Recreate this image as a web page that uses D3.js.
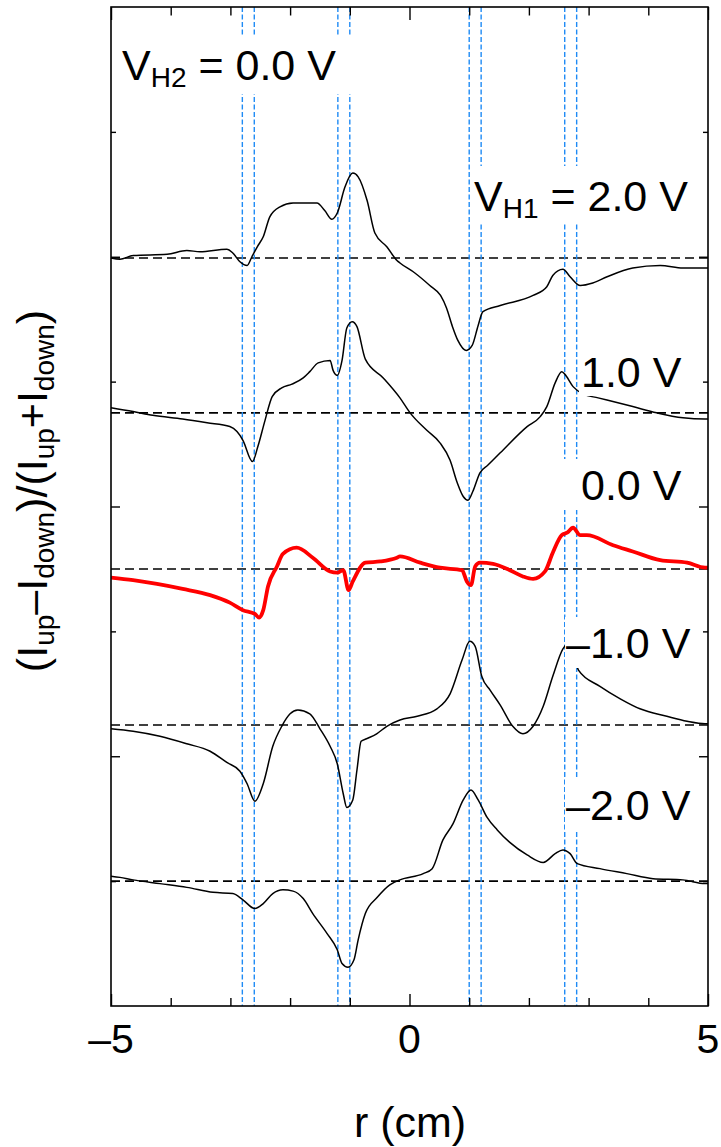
<!DOCTYPE html>
<html>
<head>
<meta charset="utf-8">
<script src="https://cdn.jsdelivr.net/npm/d3@7"></script>
<style>
  body { margin: 0; background: #fff; }
  svg { display: block; }
  text { font-family: "Liberation Sans", Arial, Helvetica, sans-serif; white-space: pre; }
</style>
</head>
<body>
<div id="chart"></div>
<script>
// ---- data (r in cm, asymmetry relative to each trace's own zero line) ----
const curveP2 = [[-5.0,0.000],[-4.85,-0.001],[-4.63,0.002],[-4.06,0.003],[-3.73,0.006],[-3.51,0.005],[-3.06,0.007],[-2.96,0.004],[-2.84,-0.003],[-2.72,-0.006],[-2.64,0.001],[-2.55,0.009],[-2.45,0.017],[-2.34,0.033],[-2.17,0.041],[-1.95,0.044],[-1.55,0.044],[-1.42,0.038],[-1.30,0.031],[-1.21,0.036],[-1.08,0.057],[-0.95,0.068],[-0.86,0.065],[-0.71,0.046],[-0.58,0.020],[-0.38,0.009],[-0.21,-0.002],[-0.16,-0.004],[0.09,-0.012],[0.34,-0.022],[0.52,-0.030],[0.62,-0.040],[0.72,-0.055],[0.81,-0.066],[0.95,-0.074],[1.05,-0.070],[1.15,-0.054],[1.23,-0.043],[1.52,-0.038],[2.07,-0.030],[2.30,-0.023],[2.40,-0.014],[2.57,-0.009],[2.69,-0.015],[2.86,-0.022],[3.07,-0.020],[3.31,-0.015],[3.74,-0.008],[4.20,-0.006],[4.58,-0.008],[4.95,-0.008],[5.0,-0.008]];

const curveP1 = [[-5.0,0.004],[-4.63,0.001],[-4.30,-0.002],[-3.80,-0.005],[-3.39,-0.008],[-3.01,-0.011],[-2.89,-0.015],[-2.79,-0.022],[-2.63,-0.039],[-2.54,-0.027],[-2.42,-0.006],[-2.30,0.013],[-2.14,0.020],[-1.97,0.023],[-1.78,0.028],[-1.67,0.033],[-1.53,0.040],[-1.33,0.042],[-1.28,0.034],[-1.21,0.030],[-1.13,0.042],[-1.05,0.068],[-0.96,0.073],[-0.88,0.069],[-0.74,0.043],[-0.44,0.028],[-0.16,0.012],[0.01,0.000],[0.29,-0.014],[0.51,-0.024],[0.68,-0.038],[0.80,-0.056],[0.90,-0.067],[0.98,-0.070],[1.06,-0.063],[1.18,-0.048],[1.31,-0.042],[1.52,-0.032],[1.97,-0.011],[2.19,-0.003],[2.30,0.005],[2.44,0.024],[2.55,0.033],[2.60,0.031],[2.74,0.021],[2.91,0.015],[3.16,0.012],[3.74,0.005],[4.14,0.000],[4.58,-0.004],[4.95,-0.005],[5.0,-0.005]];

const curve0 = [[-5.0,-0.007],[-4.63,-0.009],[-4.23,-0.012],[-3.80,-0.016],[-3.34,-0.021],[-3.01,-0.027],[-2.79,-0.033],[-2.59,-0.036],[-2.52,-0.039],[-2.45,-0.033],[-2.37,-0.014],[-2.22,0.002],[-2.12,0.012],[-1.89,0.017],[-1.62,0.009],[-1.33,-0.002],[-1.21,-0.003],[-1.11,-0.001],[-1.02,-0.017],[-0.95,-0.010],[-0.74,0.005],[-0.49,0.006],[-0.21,0.009],[-0.16,0.010],[0.18,0.005],[0.51,0.001],[0.88,-0.001],[0.96,-0.010],[1.03,-0.013],[1.10,0.002],[1.18,0.005],[1.40,0.004],[1.68,-0.001],[1.90,-0.006],[2.07,-0.008],[2.27,-0.002],[2.40,0.013],[2.55,0.027],[2.64,0.029],[2.74,0.033],[2.86,0.027],[2.97,0.027],[3.41,0.019],[3.74,0.014],[4.20,0.007],[4.65,0.005],[4.95,0.001],[5.0,0.001]];

const curveM1 = [[-5.0,-0.003],[-4.63,-0.005],[-4.18,-0.009],[-3.73,-0.015],[-3.34,-0.021],[-3.06,-0.030],[-2.84,-0.037],[-2.72,-0.047],[-2.59,-0.061],[-2.45,-0.047],[-2.29,-0.017],[-2.14,-0.001],[-2.00,0.009],[-1.87,0.012],[-1.67,0.009],[-1.50,-0.003],[-1.33,-0.017],[-1.21,-0.031],[-1.11,-0.055],[-1.05,-0.066],[-0.95,-0.060],[-0.88,-0.036],[-0.81,-0.013],[-0.72,-0.011],[-0.55,-0.007],[-0.38,-0.001],[-0.16,0.004],[0.13,0.007],[0.46,0.013],[0.68,0.025],[0.88,0.052],[1.01,0.067],[1.10,0.063],[1.21,0.039],[1.35,0.028],[1.52,0.016],[1.73,-0.001],[1.90,-0.007],[2.07,-0.001],[2.24,0.015],[2.40,0.039],[2.57,0.061],[2.69,0.066],[2.83,0.044],[3.19,0.031],[3.53,0.021],[3.86,0.013],[4.31,0.007],[4.65,0.003],[4.95,0.001],[5.0,0.001]];

const curveM2 = [[-5.0,0.004],[-4.85,0.003],[-4.63,0.001],[-4.18,-0.002],[-3.73,-0.005],[-3.29,-0.009],[-2.96,-0.010],[-2.79,-0.015],[-2.59,-0.022],[-2.45,-0.018],[-2.29,-0.010],[-2.12,-0.007],[-1.95,-0.008],[-1.78,-0.014],[-1.62,-0.026],[-1.38,-0.042],[-1.21,-0.055],[-1.13,-0.066],[-1.03,-0.069],[-0.93,-0.063],[-0.86,-0.047],[-0.74,-0.026],[-0.54,-0.013],[-0.33,-0.003],[-0.16,0.001],[0.23,0.006],[0.38,0.010],[0.56,0.033],[0.73,0.046],[0.90,0.065],[1.03,0.073],[1.15,0.065],[1.30,0.051],[1.47,0.041],[1.68,0.031],[1.97,0.021],[2.24,0.015],[2.44,0.022],[2.57,0.025],[2.69,0.022],[2.81,0.014],[3.19,0.010],[3.64,0.006],[4.08,0.002],[4.58,0.001],[4.95,-0.002],[5.0,-0.002]];

const traces = [curveP2, curveP1, curve0, curveM1, curveM2];
const traceOffsets = [0.599, 0.475, 0.35, 0.225, 0.1];
const traceLabels = ["2.0 V", "1.0 V", "0.0 V", "\u20131.0 V", "\u20132.0 V"];
const boundaryR = [-2.8, -2.6, -1.2, -1.0, 1.0, 1.2, 2.6, 2.8];

const xMajorTicks = [-5, 0, 5];
const xMinorTicks = [-4, -3, -2, -1, 1, 2, 3, 4];
const yMajorTicks = [0.2, 0.4, 0.6];
const yMinorTicks = [0.1, 0.3, 0.5, 0.7];

// ---- layout ----
const W = 721, H = 1147;
const plot = {left: 111, right: 708, top: 7, bottom: 1006};
const fontSize = 43, subSize = 28, subShift = 7;

const svg = d3.select("#chart").append("svg")
    .attr("width", W)
    .attr("height", H);

const x = d3.scaleLinear().domain([-5, 5]).range([plot.left, plot.right]);
const y = d3.scaleLinear().domain([0, 0.8]).range([plot.bottom, plot.top]);

// zero lines of each trace
svg.append("g").selectAll("line")
    .data(traceOffsets)
    .join("line")
    .attr("x1", plot.left).attr("x2", plot.right)
    .attr("y1", d => y(d)).attr("y2", d => y(d))
    .attr("stroke", "#000")
    .attr("stroke-width", 1.6)
    .attr("stroke-dasharray", "9,5");

// blue boundary lines
svg.append("g").selectAll("line")
    .data(boundaryR)
    .join("line")
    .attr("x1", d => x(d)).attr("x2", d => x(d))
    .attr("y1", plot.top).attr("y2", plot.bottom)
    .attr("stroke", "#1f8bf5")
    .attr("stroke-width", 1.4)
    .attr("stroke-dasharray", "5,2.5");

// traces
const line = d3.line()
    .x(d => x(d[0]))
    .y(d => y(d[1]))
    .curve(d3.curveMonotoneX);

traces.forEach((tr, i) => {
    let off = traceOffsets[i];
    svg.append("path")
        .datum(tr.map(d => [d[0], d[1] + off]))
        .attr("d", line)
        .attr("fill", "none")
        .attr("stroke", i == 2 ? "#ff0000" : "#000")
        .attr("stroke-width", i == 2 ? 3.8 : 1.5)
        .attr("stroke-linejoin", "round");
});

// labels with white boxes behind them
function addLabel(parts, tx, ty, pad) {
    let g = svg.append("g");
    let t = g.append("text")
        .attr("x", tx).attr("y", ty)
        .attr("font-size", fontSize);
    let shifted = false;
    parts.forEach(p => {
        let s = t.append("tspan").text(p.t);
        if (p.sub) {
            s.attr("font-size", subSize).attr("dy", subShift);
            shifted = true;
        } else {
            s.attr("font-size", fontSize);
            if (shifted) { s.attr("dy", -subShift); shifted = false; }
        }
    });
    let bb = t.node().getBBox();
    g.insert("rect", "text")
        .attr("x", bb.x - pad[0])
        .attr("y", bb.y - pad[2])
        .attr("width", bb.width + pad[0] + pad[1])
        .attr("height", bb.height + pad[2] + pad[3])
        .attr("fill", "#fff");
    return g;
}

addLabel([{t: "V"}, {t: "H2", sub: true}, {t: " = 0.0 V"}], 122, 80, [4, 18, 4, 1]);
addLabel([{t: "V"}, {t: "H1", sub: true}, {t: " = " + traceLabels[0]}], 474, 211, [2, 4, 6, 0]);
addLabel([{t: traceLabels[1]}], 581, 387, [2, 4, 1, 0]);
addLabel([{t: traceLabels[2]}], 581, 500, [21, 4, 2, 1]);
addLabel([{t: traceLabels[3]}], 566, 658, [1, 4, 2, 1]);
addLabel([{t: traceLabels[4]}], 566, 820, [1, 4, 2, 1]);

// frame + ticks
const axes = svg.append("g");

function tickAxis(axisFn, scale, vals, size, tr) {
    let g = axes.append("g")
        .attr("transform", tr)
        .call(axisFn(scale).tickValues(vals).tickSize(-size).tickFormat(""));
    g.select(".domain").remove();
    g.selectAll(".tick line").attr("stroke", "#000").attr("stroke-width", 1.4);
    return g;
}

tickAxis(d3.axisBottom, x, xMinorTicks, 8, `translate(0,${plot.bottom})`);
tickAxis(d3.axisBottom, x, xMajorTicks, 12, `translate(0,${plot.bottom})`);
tickAxis(d3.axisTop, x, xMinorTicks, 8.5, `translate(0,${plot.top})`);
tickAxis(d3.axisTop, x, xMajorTicks, 13, `translate(0,${plot.top})`);
tickAxis(d3.axisLeft, y, yMinorTicks, 5, `translate(${plot.left},0)`);
tickAxis(d3.axisLeft, y, yMajorTicks, 9, `translate(${plot.left},0)`);
tickAxis(d3.axisRight, y, yMinorTicks, 5, `translate(${plot.right},0)`);
tickAxis(d3.axisRight, y, yMajorTicks, 9, `translate(${plot.right},0)`);

axes.append("rect")
    .attr("x", plot.left).attr("y", plot.top)
    .attr("width", plot.right - plot.left)
    .attr("height", plot.bottom - plot.top)
    .attr("fill", "none")
    .attr("stroke", "#000")
    .attr("stroke-width", 1.6);

// x tick labels
svg.append("g").selectAll("text")
    .data(xMajorTicks)
    .join("text")
    .attr("x", d => x(d))
    .attr("y", 1053)
    .attr("text-anchor", "middle")
    .attr("font-size", fontSize - 2)
    .text(d => d < 0 ? "\u2013" + Math.abs(d) : d);

// x title
svg.append("text")
    .attr("x", 410).attr("y", 1137)
    .attr("text-anchor", "middle")
    .attr("font-size", fontSize)
    .text("r (cm)");

// y title
const yt = svg.append("text")
    .attr("transform", "translate(47,491) rotate(-90)")
    .attr("text-anchor", "middle")
    .attr("font-size", fontSize);

const yParts = [
    {t: "(I"}, {t: "up", sub: true}, {t: "\u2013I"}, {t: "down", sub: true},
    {t: ")/(I"}, {t: "up", sub: true}, {t: "+I"}, {t: "down", sub: true}, {t: ")"}
];
let down = false;
yParts.forEach(p => {
    let s = yt.append("tspan").text(p.t);
    if (p.sub) { s.attr("font-size", subSize).attr("dy", subShift); down = true; }
    else { s.attr("font-size", fontSize); if (down) { s.attr("dy", -subShift); down = false; } }
});
</script>
</body>
</html>
